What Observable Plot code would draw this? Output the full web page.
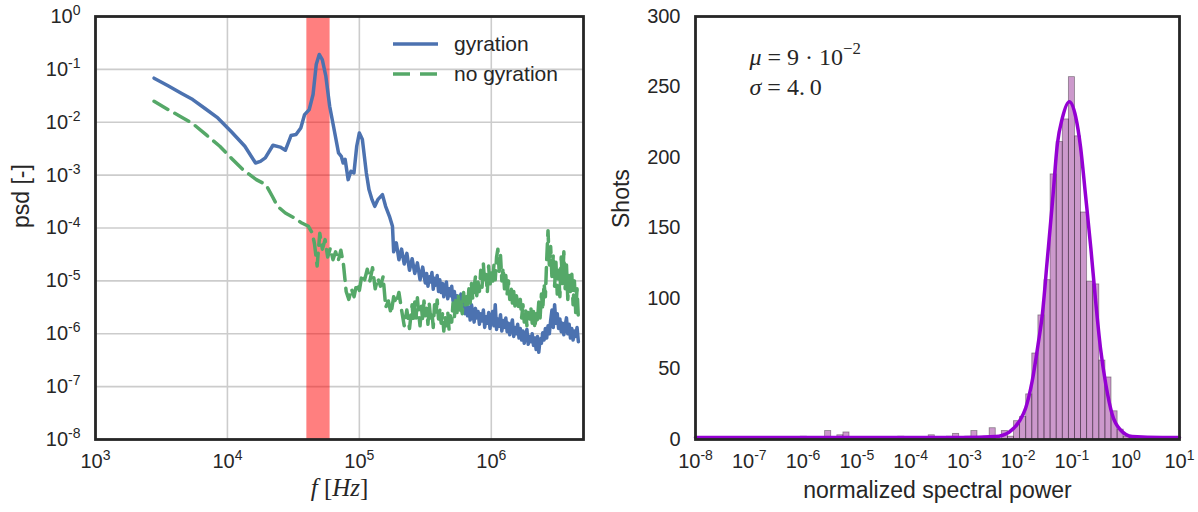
<!DOCTYPE html>
<html><head><meta charset="utf-8">
<script src="https://cdn.jsdelivr.net/npm/d3@7"></script>
<script src="https://cdn.jsdelivr.net/npm/@observablehq/plot@0.6"></script>
<style>
html,body{margin:0;padding:0;background:#fff;overflow:hidden;}
#wrap{position:relative;width:1198px;height:512px;display:flex;}
#wrap svg{display:block;}
.legend{position:absolute;left:393px;top:29px;font:21px "Liberation Sans",Arial,sans-serif;color:#262626;}
.legend .row{display:flex;align-items:center;height:30px;}
.legend .row svg{margin-right:16px;}
</style></head><body><div id="wrap"></div>
<script>
// ---------- left panel data (log10 values) ----------
const gyrLogF = [3.444,3.55,3.65,3.737,3.83,3.927,4.03,4.132,4.213,4.25,4.287,4.345,4.40,4.439,4.482,4.520,4.556,4.585,4.620,4.649,4.673,4.696,4.719,4.746,4.775,4.804,4.842,4.863,4.877,4.892,4.915,4.936,4.959,4.980,5.000,5.023,5.053,5.073,5.096,5.117,5.140,5.175,5.199,5.228,5.251,
5.26,5.28,5.30,5.32,5.34,5.36,5.38,5.40,5.42,5.44,5.46,5.48,5.50,
5.51,5.52,5.53,5.54,5.55,5.56,5.57,5.58,5.59,5.60,
5.61,5.62,5.63,5.64,5.65,5.66,5.67,5.68,5.69,5.70,
5.71,5.72,5.73,5.74,5.75,5.76,5.77,5.78,5.79,5.80,
5.81,5.82,5.83,5.84,5.85,5.86,5.87,5.88,5.89,5.90,
5.91,5.92,5.93,5.94,5.95,5.96,5.97,5.98,5.99,6.00,
6.01,6.02,6.03,6.04,6.05,6.06,6.07,6.08,6.09,6.10,
6.11,6.12,6.13,6.14,6.15,6.16,6.17,6.18,6.19,6.20,
6.21,6.22,6.23,6.24,6.25,6.26,6.27,6.28,6.29,6.30,
6.31,6.32,6.33,6.34,6.35,6.36,6.37,6.38,6.39,6.40,
6.41,6.42,6.43,6.44,6.45,6.46,6.47,6.48,6.49,6.50,
6.51,6.52,6.53,6.54,6.55,6.56,6.57,6.58,6.59,6.60,
6.61,6.62,6.63,6.64,6.65,6.66];
const gyrLogPsd = [-1.167,-1.31,-1.45,-1.571,-1.74,-1.918,-2.18,-2.454,-2.770,-2.74,-2.675,-2.435,-2.47,-2.530,-2.252,-2.233,-2.107,-1.855,-1.760,-1.476,-0.909,-0.719,-0.814,-1.129,-1.697,-2.076,-2.580,-2.644,-2.770,-2.70,-3.085,-2.927,-2.959,-2.454,-2.202,-2.328,-2.959,-3.274,-3.464,-3.590,-3.464,-3.369,-3.590,-3.779,-3.968,
-4.45,-4.28,-4.60,-4.40,-4.68,-4.48,-4.80,-4.58,-4.86,-4.66,-4.98,-4.74,-5.04,
-4.86,-5.10,-4.92,-5.02,-4.84,-5.16,-4.95,-5.08,-4.90,-5.20,
-4.98,-5.22,-5.05,-5.30,-5.12,-5.02,-5.34,-5.15,-5.28,-5.10,
-5.38,-5.20,-5.45,-5.28,-5.52,-5.35,-5.25,-5.58,-5.40,-5.62,
-5.42,-5.66,-5.50,-5.74,-5.45,-5.60,-5.78,-5.52,-5.70,-5.58,
-5.82,-5.62,-5.76,-5.55,-5.88,-5.68,-5.80,-5.60,-5.90,-5.70,
-5.58,-5.85,-5.45,-5.92,-5.72,-5.86,-5.64,-5.95,-5.75,-5.88,
-5.70,-5.96,-5.80,-6.02,-5.85,-5.74,-6.05,-5.88,-6.00,-5.82,
-6.08,-5.90,-6.12,-5.95,-6.18,-6.02,-5.92,-6.20,-6.05,-6.15,
-6.00,-6.22,-6.08,-6.30,-6.05,-6.35,-6.10,-6.18,-5.98,-6.12,
-5.90,-6.08,-5.85,-6.00,-5.75,-5.55,-5.88,-5.45,-5.80,-5.62,
-5.90,-5.72,-5.96,-5.80,-6.02,-5.85,-5.70,-6.00,-5.82,-6.08,
-5.90,-6.12,-5.95,-6.05,-5.88,-6.15];
const noGyrLogF = [3.444,3.55,3.65,3.737,3.84,3.942,4.03,4.117,4.219,4.292,4.34,4.380,4.439,4.50,4.560,4.614,4.643,
4.66,4.68,4.70,4.72,4.74,4.76,4.78,4.80,4.82,4.84,4.86,4.88,4.90,4.92,4.94,4.96,4.98,5.00,5.02,5.04,5.06,5.08,5.10,5.12,5.14,5.16,5.18,5.20,5.22,5.24,5.26,5.28,5.30,5.32,5.34,5.36,5.38,5.40,
5.41,5.42,5.43,5.44,5.45,5.46,5.47,5.48,5.49,5.50,
5.51,5.52,5.53,5.54,5.55,5.56,5.57,5.58,5.59,5.60,
5.61,5.62,5.63,5.64,5.65,5.66,5.67,5.68,5.69,5.70,
5.71,5.72,5.73,5.74,5.75,5.76,5.77,5.78,5.79,5.80,
5.81,5.82,5.83,5.84,5.85,5.86,5.87,5.88,5.89,5.90,
5.91,5.92,5.93,5.94,5.95,5.96,5.97,5.98,5.99,6.00,
6.01,6.02,6.03,6.04,6.05,6.06,6.07,6.08,6.09,6.10,
6.11,6.12,6.13,6.14,6.15,6.16,6.17,6.18,6.19,6.20,
6.21,6.22,6.23,6.24,6.25,6.26,6.27,6.28,6.29,6.30,
6.31,6.32,6.33,6.34,6.35,6.36,6.37,6.38,6.39,6.40,
6.41,6.42,6.43,6.44,6.45,6.46,6.47,6.48,6.49,6.50,
6.51,6.52,6.53,6.54,6.55,6.56,6.57,6.58,6.59,6.60,
6.61,6.62,6.63,6.64,6.65,6.66];
const noGyrLogPsd = [-1.603,-1.76,-1.90,-2.025,-2.24,-2.454,-2.68,-2.896,-3.085,-3.180,-3.40,-3.590,-3.716,-3.80,-3.90,-3.968,-4.095,
-4.30,-4.72,-4.10,-4.40,-4.22,-4.55,-4.38,-4.60,-4.45,-4.62,-4.42,-4.70,-5.20,-5.35,-5.15,-5.30,-5.05,-5.18,-4.88,-4.98,-4.78,-5.00,-4.75,-5.15,-4.95,-5.10,-4.92,-5.50,-5.38,-5.62,-5.30,-5.42,-5.22,-5.55,-5.85,-5.55,-5.90,-5.45,
-5.78,-5.40,-5.70,-5.32,-5.62,-5.85,-5.48,-5.75,-5.38,-5.66,
-5.52,-5.82,-5.44,-5.70,-5.58,-5.88,-5.45,-5.64,-5.36,-5.72,
-5.55,-5.80,-5.62,-5.95,-5.68,-5.85,-5.58,-5.92,-5.66,-5.78,
-5.42,-5.70,-5.35,-5.60,-5.28,-5.55,-5.38,-5.62,-5.22,-5.48,
-5.30,-5.52,-5.15,-5.42,-5.05,-5.35,-5.12,-4.92,-5.28,-5.02,
-5.20,-4.80,-5.12,-4.68,-5.05,-4.88,-5.22,-4.72,-5.10,-4.85,
-5.05,-4.70,-4.98,-4.55,-4.40,-4.82,-4.52,-5.00,-4.75,-5.15,
-4.90,-5.25,-5.00,-5.35,-5.10,-5.42,-5.20,-5.50,-5.28,-5.40,
-5.55,-5.35,-5.70,-5.45,-5.78,-5.52,-5.85,-5.60,-5.72,-5.50,
-5.80,-5.58,-5.90,-5.62,-5.75,-5.40,-5.70,-5.25,-5.55,-5.05,
-5.30,-4.60,-4.05,-4.70,-4.35,-4.95,-4.50,-5.10,-4.65,-5.25,
-4.80,-5.30,-4.55,-5.05,-4.45,-5.15,-4.70,-5.35,-4.90,-5.20,
-4.85,-5.45,-5.00,-5.60,-5.15,-5.70];
const gyrationBand = [{lo: 4.0e4, hi: 6.0e4}];
const freqTicks = [1e3, 1e4, 1e5, 1e6];
const psdTicks = [1e-8, 1e-7, 1e-6, 1e-5, 1e-4, 1e-3, 1e-2, 1e-1, 1e0];

// ---------- right panel data ----------
const histFirstLogEdge = -6.0425;   // left edge (log10) of first bin
const histLogBinWidth = 0.1133;     // bin width in decades
const histCounts = [2,0,0,0,6,0,3,5,0,0,0,0,0,0,0,0,2,0,0,0,0,3,0,0,2,4,0,2,6,0,2,8,0,6,2,
13,16,32,61,88,113,188,211,227,257,215,161,112,110,56,44,20,7,2,1];
const fitLogX = [-8,-6,-4,-3.04,-2.42,-2.17,-1.98,-1.86,-1.74,-1.63,-1.55,-1.46,-1.36,-1.27,-1.18,-1.05,-0.93,-0.84,-0.75,-0.65,-0.56,-0.47,-0.37,-0.25,-0.10,0.12,0.68,1];
const fitCounts = [1.4,1.4,1.4,1.4,2.1,5.2,12.8,22.3,41.3,67.4,88.8,126.8,169.5,209.9,227.7,239.6,228.9,207.5,174.3,136.3,98.3,65,39,17.6,6.9,2.1,1.4,1.4];
const powerTicks = [1e-8,1e-7,1e-6,1e-5,1e-4,1e-3,1e-2,1e-1,1e0,1e1];
const shotTicks = [0, 50, 100, 150, 200, 250, 300];

// ---------- build tables ----------
const gyr = gyrLogF.map((l, i) => ({f: 10 ** l, psd: 10 ** gyrLogPsd[i]}));
const noGyr = noGyrLogF.map((l, i) => ({f: 10 ** l, psd: 10 ** noGyrLogPsd[i]}));
const bins = histCounts.map((c, i) => ({
  lo: 10 ** (histFirstLogEdge + i * histLogBinWidth),
  hi: 10 ** (histFirstLogEdge + (i + 1) * histLogBinWidth),
  count: c
})).filter(d => d.count > 0);
const fit = fitLogX.map((l, i) => ({x: 10 ** l, y: fitCounts[i]}));

const INK = "#262626";
const SANS = "Liberation Sans, Arial, sans-serif";
const SERIF = "Liberation Serif, Times New Roman, serif";
const powFmt = d => `10^${Math.round(Math.log10(d))}`;
const axisOpts = {tickSize: 0, fontSize: 20, fill: INK, label: null};

const left = Plot.plot({
  width: 600, height: 512,
  marginLeft: 95, marginRight: 17, marginTop: 16, marginBottom: 73,
  x: {type: "log", domain: [1e3, 5e6]},
  y: {type: "log", domain: [1e-8, 1]},
  style: {fontFamily: SANS, color: INK, background: "#fff"},
  marks: [
    Plot.gridX(freqTicks, {stroke: "#cccccc", strokeOpacity: 1, strokeWidth: 1.6}),
    Plot.gridY(psdTicks, {stroke: "#cccccc", strokeOpacity: 1, strokeWidth: 1.6}),
    Plot.rect(gyrationBand, {x1: "lo", x2: "hi", fill: "red", fillOpacity: 0.5}),
    Plot.line(gyr, {x: "f", y: "psd", stroke: "#4C72B0", strokeWidth: 3.5}),
    Plot.line(noGyr, {x: "f", y: "psd", stroke: "#55A868", strokeWidth: 3.5, strokeDasharray: "16,8"}),
    Plot.axisX(freqTicks, {...axisOpts, tickPadding: 14, tickFormat: powFmt}),
    Plot.axisY(psdTicks, {...axisOpts, tickPadding: 15, tickFormat: powFmt}),
    Plot.text(["psd [-]"], {frameAnchor: "left", dx: -74, rotate: -90, fontSize: 23, fill: INK}),
    Plot.text(["f [Hz]"], {frameAnchor: "bottom", dy: 56, fontSize: 25, fontFamily: SERIF, fill: INK}),
    Plot.frame({stroke: INK, strokeWidth: 2.8})
  ]
});

const right = Plot.plot({
  width: 598, height: 512,
  marginLeft: 95, marginRight: 19, marginTop: 16, marginBottom: 73,
  x: {type: "log", domain: [1e-8, 1e1]},
  y: {domain: [0, 300]},
  style: {fontFamily: SANS, color: INK, background: "#fff"},
  marks: [
    Plot.rectY(bins, {x1: "lo", x2: "hi", y: "count", fill: "purple", fillOpacity: 0.4, stroke: "black", strokeOpacity: 0.4, strokeWidth: 0.8}),
    Plot.line(fit, {x: "x", y: "y", stroke: "#9400D3", strokeWidth: 3.5, curve: "monotone-x"}),
    Plot.axisX(powerTicks, {...axisOpts, tickPadding: 14, tickFormat: powFmt}),
    Plot.axisY(shotTicks, {...axisOpts, tickPadding: 15, tickFormat: d => String(d)}),
    Plot.text(["Shots"], {frameAnchor: "left", dx: -74, rotate: -90, fontSize: 23, fill: INK}),
    Plot.text(["normalized spectral power"], {frameAnchor: "bottom", dy: 58, fontSize: 23, fill: INK}),
    Plot.text(["μ = 9·10^-2"], {frameAnchor: "top-left", dx: 54, dy: 31, textAnchor: "start", fontSize: 24, fontFamily: SERIF, fill: INK}),
    Plot.text(["σ = 4.0"], {frameAnchor: "top-left", dx: 54, dy: 61, textAnchor: "start", fontSize: 24, fontFamily: SERIF, fill: INK}),
    Plot.frame({stroke: INK, strokeWidth: 2.8})
  ]
});

// ---------- rich text (superscripts / math italics) ----------
function supTicks(svg) {
  d3.select(svg).selectAll("text").each(function () {
    const m = /^10\^(-?\d+)$/.exec(this.textContent);
    if (m) {
      const s = d3.select(this); s.text(null);
      s.append("tspan").text("10");
      s.append("tspan").attr("font-size", "0.7em").attr("dy", "-0.55em").text(m[1]);
    }
  });
}
function richText(svg, key, parts) {
  d3.select(svg).selectAll("text").filter(function () { return this.textContent === key; }).each(function () {
    const s = d3.select(this); s.text(null);
    for (const [txt, kind] of parts) {
      const t = s.append("tspan").text(txt);
      if (kind === "i") t.attr("font-style", "italic");
      if (kind === "sup") t.attr("font-size", "0.7em").attr("dy", "-0.6em");
    }
  });
}
supTicks(left); supTicks(right);
richText(left, "f [Hz]", [["f", "i"], [" [", ""], ["Hz", "i"], ["]", ""]]);
richText(right, "μ = 9·10^-2", [["μ", "i"], [" = 9 · 10", ""], ["\u22122", "sup"]]);
richText(right, "σ = 4.0", [["σ", "i"], [" = 4.\u20090", ""]]);

const wrap = document.getElementById("wrap");
wrap.append(left, right);

// legend (upper right of left panel)
const legend = document.createElement("div");
legend.className = "legend";
legend.innerHTML =
  `<div class="row"><svg width="45" height="8"><line x1="0" x2="45" y1="4" y2="4" stroke="#4C72B0" stroke-width="3.5"/></svg><span>gyration</span></div>` +
  `<div class="row"><svg width="45" height="8"><line x1="0" x2="45" y1="4" y2="4" stroke="#55A868" stroke-width="3.5" stroke-dasharray="17,10"/></svg><span>no gyration</span></div>`;
wrap.append(legend);
</script></body></html>
